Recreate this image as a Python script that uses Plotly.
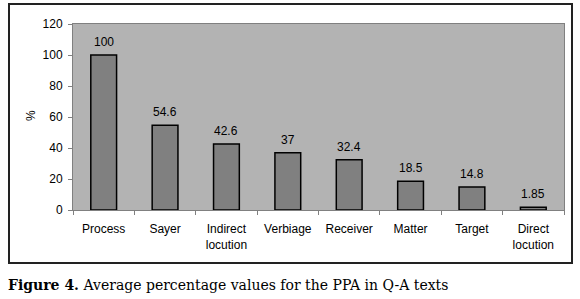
import plotly.graph_objects as go

categories = ["Process", "Sayer", "Indirect<br>locution", "Verbiage", "Receiver",
              "Matter", "Target", "Direct<br>locution"]
values = [100, 54.6, 42.6, 37, 32.4, 18.5, 14.8, 1.85]
labels = ["100", "54.6", "42.6", "37", "32.4", "18.5", "14.8", "1.85"]
y_ticks = [0, 20, 40, 60, 80, 100, 120]

W, H = 580, 299
L, R, T, B = 73, 16, 24, 89
pw, ph = W - L - R, H - T - B

def px(x):
    return (x - L) / pw

def py(y):
    return (H - B - y) / ph

fig = go.Figure()
fig.add_trace(go.Bar(
    x=categories, y=values,
    marker=dict(color="#808080", line=dict(color="black", width=1.5)),
))

annotations = [dict(x=c, y=v, text=t, xref="x", yref="y", showarrow=False,
                    yanchor="middle", yshift=13,
                    font=dict(family="Liberation Sans, Arial", size=12, color="black"))
               for c, v, t in zip(categories, values, labels)]
annotations.append(dict(xref="paper", yref="paper", x=px(6), y=py(295),
                        xanchor="left", yanchor="bottom", showarrow=False,
                        text="<b>Figure 4.</b> Average percentage values for the PPA in Q-A texts",
                        font=dict(family="DejaVu Serif, serif", size=14, color="black")))
annotations.append(dict(xref="paper", yref="paper", x=px(31), y=py(116),
                        xanchor="center", yanchor="middle", showarrow=False,
                        text="%", textangle=-90,
                        font=dict(family="Liberation Sans, Arial", size=12, color="black")))

fig.update_layout(
    width=W, height=H,
    margin=dict(l=L, r=R, t=T, b=B, autoexpand=False),
    paper_bgcolor="white", plot_bgcolor="#B3B3B3",
    bargap=0.58, showlegend=False,
    font=dict(family="Liberation Sans, Arial", size=12, color="black"),
    xaxis=dict(showline=True, linecolor="#808080", linewidth=1, mirror=True,
               ticks="outside", tickson="boundaries", ticklen=4, tickcolor="#808080",
               showgrid=False, tickfont=dict(size=12), automargin=False,
               ticklabelstandoff=8),
    yaxis=dict(range=[0, 120], tickvals=y_ticks, showline=True, linecolor="#808080",
               linewidth=1, mirror=True, ticks="outside", ticklen=4, tickcolor="#808080",
               showgrid=False, zeroline=False, tickfont=dict(size=12), automargin=False,
               ticklabelstandoff=3),
    shapes=[dict(type="rect", xref="paper", yref="paper",
                 x0=px(9), x1=px(572), y0=py(263), y1=py(4),
                 line=dict(color="#222222", width=2), layer="below")],
    annotations=annotations,
)

fig.write_html("out.html", config={"displayModeBar": False},
               post_script="document.body.style.margin='0';document.body.style.overflow='hidden';")
